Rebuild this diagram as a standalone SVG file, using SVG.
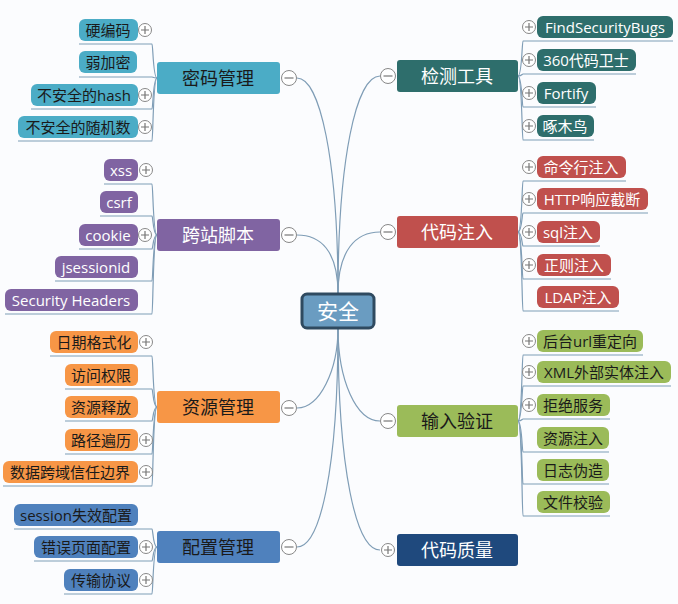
<svg xmlns="http://www.w3.org/2000/svg" width="678" height="604" viewBox="0 0 678 604">
<style>
text{font-family:"Open Sans","Noto Sans CJK SC",sans-serif;text-anchor:middle;dominant-baseline:central}
.lf{font-size:15px}.br{font-size:18px}
.w{fill:#fff}.d{fill:#1a1a1a}
.c{fill:none;stroke:#7f9db6;stroke-width:1.2}
.tg circle{fill:#fff;stroke:#888;stroke-width:1}
.tg path{stroke:#777;stroke-width:1.2;fill:none}
.c1{fill:#4bacc6}.c2{fill:#8064a2}.c3{fill:#f79646}.c4{fill:#4f81bd}.c5{fill:#2e6e6c}.c6{fill:#c0504d}.c7{fill:#9bbb59}.c8{fill:#1f497d}
</style>
<defs>
<g id="plus" class="tg"><circle r="6.5"/><path d="M-4 0H4M0 -4V4"/></g>
<g id="minus" class="tg"><circle r="7.5"/><path d="M-4.5 0H4.5"/></g>
</defs>
<rect width="678" height="604" fill="#fbfcfe"/>
<g id="connectors">
<path class="c" d="M338 294C338 160 320 78 297 78"/>
<path class="c" d="M338 294C338 250 320 235 297 235"/>
<path class="c" d="M338 328C338 370 320 408 297 408"/>
<path class="c" d="M338 328C338 470 320 547 297 547"/>
<path class="c" d="M338 294C338 160 356 76 380 76"/>
<path class="c" d="M338 294C338 250 356 232 380 232"/>
<path class="c" d="M338 328C338 380 356 421 380 421"/>
<path class="c" d="M338 328C338 470 356 550 380 550"/>
<g id="lc">
<path class="c" d="M157 78C153 78 153 44 152 44H79"/>
<path class="c" d="M157 78C153 78 153 77 152 77H79"/>
<path class="c" d="M157 78C153 78 153 109 152 109H31"/>
<path class="c" d="M157 78C153 78 153 141 152 141H18"/>
<path class="c" d="M157 235C153 235 153 184 152 184H104"/>
<path class="c" d="M157 235C153 235 153 216 152 216H100"/>
<path class="c" d="M157 235C153 235 153 249 152 249H79"/>
<path class="c" d="M157 235C153 235 153 281 152 281H55"/>
<path class="c" d="M157 235C153 235 153 314 152 314H5"/>
<path class="c" d="M157 407C153 407 153 356 152 356H50"/>
<path class="c" d="M157 407C153 407 153 389 152 389H65"/>
<path class="c" d="M157 407C153 407 153 421 152 421H65"/>
<path class="c" d="M157 407C153 407 153 454 152 454H65"/>
<path class="c" d="M157 407C153 407 153 486 152 486H3"/>
<path class="c" d="M157 547C153 547 153 529 152 529H14"/>
<path class="c" d="M157 547C153 547 153 561 152 561H34"/>
<path class="c" d="M157 547C153 547 153 594 152 594H64"/>
</g>
<g id="rc">
<path class="c" d="M518 76C522 76 522 41 523 41H673"/>
<path class="c" d="M518 76C522 76 522 74 523 74H636"/>
<path class="c" d="M518 76C522 76 522 107 523 107H596"/>
<path class="c" d="M518 76C522 76 522 140 523 140H594"/>
<path class="c" d="M518 232C522 232 522 181 523 181H626"/>
<path class="c" d="M518 232C522 232 522 213 523 213H648"/>
<path class="c" d="M518 232C522 232 522 246 523 246H600"/>
<path class="c" d="M518 232C522 232 522 279 523 279H611"/>
<path class="c" d="M518 232C522 232 522 311 523 311H619"/>
<path class="c" d="M518 421C522 421 522 355 523 355H643"/>
<path class="c" d="M518 421C522 421 522 386 523 386H671"/>
<path class="c" d="M518 421C522 421 522 419 523 419H610"/>
<path class="c" d="M518 421C522 421 522 452 523 452H609"/>
<path class="c" d="M518 421C522 421 522 484 523 484H609"/>
<path class="c" d="M518 421C522 421 522 516 523 516H610"/>
</g>
</g>
<g id="root"><rect x="302" y="294" width="72" height="34" rx="5" fill="#6a9cc1" stroke="#2f4a60" stroke-width="3"/><text x="338" y="311" font-size="21" class="w">安全</text></g>

<g id="b1"><rect x="157" y="62" width="123" height="32" rx="3" class="c1"/><text x="218" y="78" class="br d">密码管理</text><use href="#minus" x="289" y="78"/></g>
<g id="b2"><rect x="157" y="219" width="123" height="32" rx="3" class="c2"/><text x="218" y="235" class="br w">跨站脚本</text><use href="#minus" x="289" y="235"/></g>
<g id="b3"><rect x="157" y="391" width="123" height="32" rx="3" class="c3"/><text x="218" y="407" class="br d">资源管理</text><use href="#minus" x="289" y="408"/></g>
<g id="b4"><rect x="157" y="531" width="123" height="32" rx="3" class="c4"/><text x="218" y="547" class="br d">配置管理</text><use href="#minus" x="289" y="547"/></g>
<g id="b5"><rect x="397" y="60" width="121" height="32" rx="3" class="c5"/><text x="457" y="76" class="br w">检测工具</text><use href="#minus" x="388" y="76"/></g>
<g id="b6"><rect x="397" y="216" width="121" height="32" rx="3" class="c6"/><text x="457" y="232" class="br w">代码注入</text><use href="#minus" x="388" y="232"/></g>
<g id="b7"><rect x="397" y="405" width="121" height="32" rx="3" class="c7"/><text x="457" y="421" class="br d">输入验证</text><use href="#minus" x="388" y="421"/></g>
<g id="b8"><rect x="397" y="534" width="121" height="32" rx="3" class="c8"/><text x="457" y="550" class="br w">代码质量</text><use href="#plus" x="388" y="550"/></g>

<g id="l1"><rect x="79" y="19" width="59" height="22" rx="6" class="c1"/><text x="108" y="30" class="lf d">硬编码</text><use href="#plus" x="145" y="30"/></g>
<g id="l2"><rect x="79" y="51" width="58" height="22" rx="6" class="c1"/><text x="108" y="62" class="lf d">弱加密</text></g>
<g id="l3"><rect x="31" y="84" width="107" height="22" rx="6" class="c1"/><text x="84" y="95" class="lf d">不安全的hash</text><use href="#plus" x="145" y="95"/></g>
<g id="l4"><rect x="18" y="116" width="120" height="22" rx="6" class="c1"/><text x="78" y="127" class="lf d">不安全的随机数</text><use href="#plus" x="145" y="127"/></g>

<g id="l5"><rect x="104" y="159" width="34" height="22" rx="6" class="c2"/><text x="121" y="170" class="lf w">xss</text><use href="#plus" x="146" y="170"/></g>
<g id="l6"><rect x="100" y="191" width="38" height="22" rx="6" class="c2"/><text x="119" y="202" class="lf w">csrf</text></g>
<g id="l7"><rect x="79" y="224" width="59" height="22" rx="6" class="c2"/><text x="108" y="235" class="lf w">cookie</text><use href="#plus" x="145" y="235"/></g>
<g id="l8"><rect x="55" y="256" width="83" height="22" rx="6" class="c2"/><text x="96" y="267" class="lf w">jsessionid</text></g>
<g id="l9"><rect x="5" y="289" width="133" height="22" rx="6" class="c2"/><text x="71" y="300" class="lf w">Security Headers</text></g>

<g id="l10"><rect x="50" y="331" width="88" height="22" rx="6" class="c3"/><text x="94" y="342" class="lf d">日期格式化</text><use href="#plus" x="146" y="342"/></g>
<g id="l11"><rect x="65" y="364" width="73" height="22" rx="6" class="c3"/><text x="101" y="375" class="lf d">访问权限</text></g>
<g id="l12"><rect x="65" y="396" width="73" height="22" rx="6" class="c3"/><text x="101" y="407" class="lf d">资源释放</text></g>
<g id="l13"><rect x="65" y="429" width="73" height="22" rx="6" class="c3"/><text x="101" y="440" class="lf d">路径遍历</text><use href="#plus" x="146" y="440"/></g>
<g id="l14"><rect x="3" y="461" width="135" height="22" rx="6" class="c3"/><text x="70" y="472" class="lf d">数据跨域信任边界</text><use href="#plus" x="146" y="472"/></g>

<g id="l15"><rect x="14" y="504" width="124" height="22" rx="6" class="c4"/><text x="76" y="515" class="lf d">session失效配置</text></g>
<g id="l16"><rect x="34" y="536" width="104" height="22" rx="6" class="c4"/><text x="86" y="547" class="lf d">错误页面配置</text><use href="#plus" x="146" y="547"/></g>
<g id="l17"><rect x="64" y="569" width="74" height="22" rx="6" class="c4"/><text x="101" y="580" class="lf d">传输协议</text><use href="#plus" x="146" y="580"/></g>

<g id="r1"><rect x="537" y="16" width="136" height="22" rx="6" class="c5"/><text x="605" y="27" class="lf w">FindSecurityBugs</text><use href="#plus" x="529" y="27"/></g>
<g id="r2"><rect x="537" y="49" width="99" height="22" rx="6" class="c5"/><text x="586" y="60" class="lf w">360代码卫士</text><use href="#plus" x="529" y="60"/></g>
<g id="r3"><rect x="537" y="82" width="59" height="22" rx="6" class="c5"/><text x="566" y="93" class="lf w">Fortify</text><use href="#plus" x="529" y="93"/></g>
<g id="r4"><rect x="537" y="115" width="57" height="22" rx="6" class="c5"/><text x="565" y="126" class="lf w">啄木鸟</text><use href="#plus" x="529" y="126"/></g>

<g id="r5"><rect x="537" y="156" width="89" height="22" rx="6" class="c6"/><text x="581" y="167" class="lf w">命令行注入</text><use href="#plus" x="529" y="167"/></g>
<g id="r6"><rect x="537" y="188" width="111" height="22" rx="6" class="c6"/><text x="592" y="199" class="lf w">HTTP响应截断</text><use href="#plus" x="529" y="199"/></g>
<g id="r7"><rect x="537" y="221" width="63" height="22" rx="6" class="c6"/><text x="568" y="232" class="lf w">sql注入</text><use href="#plus" x="529" y="232"/></g>
<g id="r8"><rect x="537" y="254" width="74" height="22" rx="6" class="c6"/><text x="574" y="265" class="lf w">正则注入</text><use href="#plus" x="529" y="265"/></g>
<g id="r9"><rect x="537" y="286" width="82" height="22" rx="6" class="c6"/><text x="578" y="297" class="lf w">LDAP注入</text></g>

<g id="r10"><rect x="537" y="330" width="106" height="22" rx="6" class="c7"/><text x="590" y="341" class="lf d">后台url重定向</text><use href="#plus" x="529" y="341"/></g>
<g id="r11"><rect x="537" y="361" width="134" height="22" rx="6" class="c7"/><text x="604" y="372" class="lf d">XML外部实体注入</text><use href="#plus" x="529" y="372"/></g>
<g id="r12"><rect x="537" y="394" width="73" height="22" rx="6" class="c7"/><text x="573" y="405" class="lf d">拒绝服务</text><use href="#plus" x="529" y="405"/></g>
<g id="r13"><rect x="537" y="427" width="72" height="22" rx="6" class="c7"/><text x="573" y="438" class="lf d">资源注入</text></g>
<g id="r14"><rect x="537" y="459" width="72" height="22" rx="6" class="c7"/><text x="573" y="470" class="lf d">日志伪造</text></g>
<g id="r15"><rect x="537" y="491" width="73" height="22" rx="6" class="c7"/><text x="573" y="502" class="lf d">文件校验</text></g>
</svg>
